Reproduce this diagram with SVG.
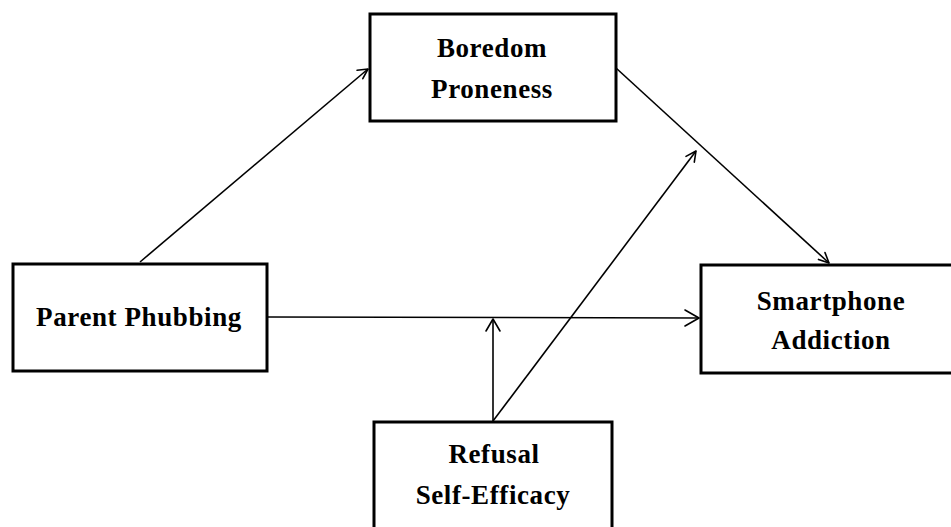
<svg xmlns="http://www.w3.org/2000/svg" width="951" height="527" viewBox="0 0 951 527">
<style>
.box{fill:#fff;stroke:#000;stroke-width:3}
.lbl{font-family:"Liberation Serif","Times New Roman",serif;font-weight:bold;font-size:27px;letter-spacing:0.6px;fill:#000;text-anchor:middle}
.edge{fill:none;stroke:#000;stroke-width:1.6}
.head{fill:none;stroke:#000;stroke-width:1.6;stroke-linecap:round;stroke-linejoin:round}
</style>
<rect width="951" height="527" fill="#fff"/>
<g id="connectors">
  <line class="edge" x1="140" y1="262" x2="368" y2="69"/>
  <polyline class="head" points="357.1,70.3 368,69 362.8,78.7"/>
  <line class="edge" x1="616" y1="68" x2="829" y2="263"/>
  <polyline class="head" points="825.0,252.6 829,263 818.5,259.4"/>
  <line class="edge" x1="268" y1="317" x2="699" y2="318"/>
  <polyline class="head" points="685,310 699,318 685,326"/>
  <line class="edge" x1="493" y1="421" x2="493" y2="319"/>
  <polyline class="head" points="486,331 493,319 500,331"/>
  <line class="edge" x1="493" y1="421" x2="696" y2="151"/>
  <polyline class="head" points="686.0,156.4 696,151 694.3,162.2"/>
</g>
<g id="node-boredom">
  <rect class="box" x="370" y="14" width="246" height="107"/>
  <text class="lbl" x="492" y="57">Boredom</text>
  <text class="lbl" x="492" y="98">Proneness</text>
</g>
<g id="node-parent">
  <rect class="box" x="13" y="264" width="254" height="107"/>
  <text class="lbl" x="139" y="326">Parent Phubbing</text>
</g>
<g id="node-smartphone">
  <rect class="box" x="701" y="265" width="260" height="108"/>
  <text class="lbl" x="831" y="310">Smartphone</text>
  <text class="lbl" x="831" y="349">Addiction</text>
</g>
<g id="node-refusal">
  <rect class="box" x="374" y="422" width="238" height="120"/>
  <text class="lbl" x="494" y="463">Refusal</text>
  <text class="lbl" x="493" y="504">Self-Efficacy</text>
</g>
</svg>
